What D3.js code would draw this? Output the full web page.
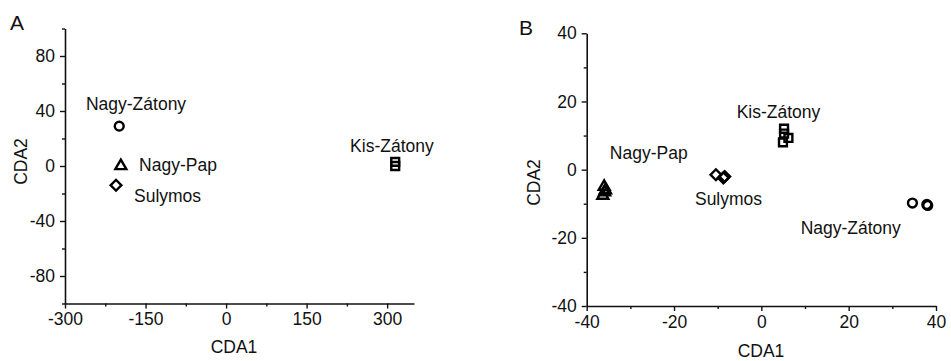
<!DOCTYPE html>
<html>
<head>
<meta charset="utf-8">
<script src="https://cdn.jsdelivr.net/npm/d3@7"></script>
<style>
  html, body { margin: 0; padding: 0; background: #fff; }
  svg { display: block; }
  text { font-family: "Liberation Sans", Arial, sans-serif; fill: #111; }
</style>
</head>
<body>
<svg id="chart" width="951" height="361"></svg>
<script>
// Site groups and their marker shapes
const groups = ["Nagy-Zátony", "Nagy-Pap", "Sulymos", "Kis-Zátony"];
const shapes = ["circle", "triangle", "diamond", "square"];

// Panel A: canonical scores (CDA1, CDA2) per group
const aNagyZatony = [[-199, 29]];
const aNagyPap    = [[-196, 0]];
const aSulymos    = [[-205, -14]];
const aKisZatony  = [[315, 3], [315, 0]];

// Panel B: canonical scores (CDA1, CDA2) per group
const bNagyZatony = [[34.6, -9.8], [37.9, -10.2], [38.1, -10.5]];
const bNagyPap    = [[-36.0, -5.0], [-35.7, -6.0], [-36.3, -7.6], [-35.9, -6.6]];
const bSulymos    = [[-10.4, -1.5], [-8.4, -2.0], [-8.7, -2.4]];
const bKisZatony  = [[5.2, 12.0], [5.2, 10.6], [6.2, 9.3], [4.95, 8.0]];

// Group label anchors (data units, left end of the text baseline)
const aLabels = [[-261, 41], [-162, -3.3], [-171.5, -26.5], [231, 10.2]];
const bLabels = [[9.0, -19.0], [-34.7, 3.0], [-15.2, -10.5], [-5.65, 15.2]];

// Axis ticks
const aXTicks = [-300, -150, 0, 150, 300];
const aXMinor = [-225, -75, 75, 225];
const aYTicks = [-80, -40, 0, 40, 80];
const aYMinor = [-100, -60, -20, 20, 60, 100];
const bXTicks = [-40, -20, 0, 20, 40];
const bXMinor = [-30, -10, 10, 30];
const bYTicks = [-40, -20, 0, 20, 40];
const bYMinor = [-30, -10, 10, 30];

const svg = d3.select("#chart");
const plain = d => String(d); // hyphen-minus for negative tick values

function markerPath(shape) {
  if (shape === "circle") return d3.symbol(d3.symbolCircle, 62)();
  if (shape === "triangle") return d3.symbol(d3.symbolTriangle, 52)();
  if (shape === "square") return d3.symbol(d3.symbolSquare, 62)();
  return d3.symbol(d3.symbolSquare, 58)(); // rotated into a diamond below
}

function panel(cfg) {
  const g = svg.append("g");
  const x = d3.scaleLinear().domain(cfg.xDomain).range(cfg.xRange);
  const y = d3.scaleLinear().domain(cfg.yDomain).range(cfg.yRange);
  const x0 = cfg.xRange[0], yBottom = cfg.yRange[0];

  // minor ticks
  g.append("g").attr("transform", `translate(0,${yBottom})`)
    .call(d3.axisBottom(x).tickValues(cfg.xMinor).tickSize(3).tickFormat(""))
    .call(a => a.select(".domain").remove());
  g.append("g").attr("transform", `translate(${x0},0)`)
    .call(d3.axisLeft(y).tickValues(cfg.yMinor).tickSize(3).tickFormat(""))
    .call(a => a.select(".domain").remove());

  // major axes
  const xa = g.append("g").attr("transform", `translate(0,${yBottom})`)
    .call(d3.axisBottom(x).tickValues(cfg.xTicks).tickSize(5).tickSizeOuter(0)
      .tickPadding(cfg.xPad).tickFormat(plain));
  const ya = g.append("g").attr("transform", `translate(${x0},0)`)
    .call(d3.axisLeft(y).tickValues(cfg.yTicks).tickSize(5).tickSizeOuter(0)
      .tickPadding(5).tickFormat(plain));
  [xa, ya].forEach(a => {
    a.selectAll("path.domain").attr("stroke", "#111").attr("stroke-width", 1.6);
    a.selectAll("text").attr("font-size", 17.5).attr("fill", "#111")
      .attr("font-family", "Liberation Sans, Arial, sans-serif");
  });
  g.selectAll("g.tick line").attr("stroke", "#111").attr("stroke-width", 1.4);

  // axis titles
  g.append("text").attr("x", cfg.xTitle[0]).attr("y", cfg.xTitle[1])
    .attr("text-anchor", "middle").attr("font-size", 17.5).text("CDA1");
  g.append("text")
    .attr("transform", `translate(${cfg.yTitle[0]},${cfg.yTitle[1]}) rotate(-90)`)
    .attr("text-anchor", "middle").attr("font-size", 17.5).text("CDA2");

  // panel letter
  g.append("text").attr("x", cfg.letterPos[0]).attr("y", cfg.letterPos[1])
    .attr("font-size", 21).text(cfg.letter);

  // markers
  cfg.series.forEach((pts, i) => {
    const shape = shapes[i];
    g.append("g").selectAll("path").data(pts).join("path")
      .attr("d", markerPath(shape))
      .attr("transform", d => `translate(${x(d[0])},${y(d[1])})` + (shape === "diamond" ? " rotate(45)" : ""))
      .attr("fill", "none")
      .attr("stroke", "#000")
      .attr("stroke-width", 2.4);
  });

  // group labels
  g.append("g").selectAll("text").data(cfg.labels).join("text")
    .attr("x", d => x(d[0])).attr("y", d => y(d[1]))
    .attr("font-size", 17.5)
    .text((d, i) => groups[i]);
}

panel({
  letter: "A", letterPos: [10, 30],
  xDomain: [-300, 350], xRange: [65, 414],
  yDomain: [-100, 100], yRange: [303.5, 28.5],
  xTicks: aXTicks, xMinor: aXMinor, yTicks: aYTicks, yMinor: aYMinor,
  xPad: 4,
  xTitle: [234, 353], yTitle: [26.5, 161.5],
  series: [aNagyZatony, aNagyPap, aSulymos, aKisZatony],
  labels: aLabels
});

panel({
  letter: "B", letterPos: [519, 35],
  xDomain: [-40, 40], xRange: [586.7, 936],
  yDomain: [-40, 40], yRange: [306, 33.3],
  xTicks: bXTicks, xMinor: bXMinor, yTicks: bYTicks, yMinor: bYMinor,
  xPad: 5,
  xTitle: [761, 357], yTitle: [540, 182.5],
  series: [bNagyZatony, bNagyPap, bSulymos, bKisZatony],
  labels: bLabels
});
</script>
</body>
</html>
